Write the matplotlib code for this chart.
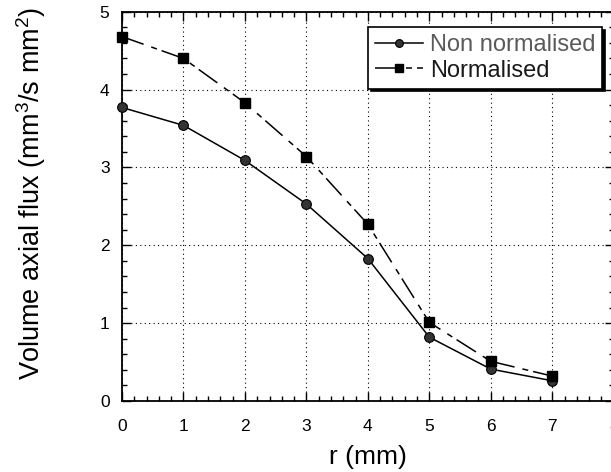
import numpy as np, matplotlib
matplotlib.use('Agg')
import matplotlib.pyplot as plt
from matplotlib.ticker import MultipleLocator

plt.rcParams['font.family'] = ['Liberation Sans', 'DejaVu Sans']
plt.rcParams['mathtext.fontset'] = 'custom'
plt.rcParams['mathtext.rm'] = 'Liberation Sans'

r = [0, 1, 2, 3, 4, 5, 6, 7]
non_norm = [3.77, 3.54, 3.09, 2.53, 1.83, 0.82, 0.41, 0.26]
norm = [4.68, 4.40, 3.83, 3.14, 2.27, 1.01, 0.51, 0.32]
xticks = [0, 1, 2, 3, 4, 5, 6, 7, 8]
yticks = [0, 1, 2, 3, 4, 5]

fig = plt.figure(figsize=(6.11, 4.72), dpi=100)
ax = fig.add_axes([0.1997, 0.1504, 0.8047, 0.8248])

ax.plot(r, non_norm, color='black', lw=1.1, marker='o', ms=7,
        mfc='#333333', mec='black', mew=0.8, clip_on=False, zorder=3,
        label='Non normalised')
ax.plot(r, norm, color='black', lw=1.1, ls=(0, (15, 5.3, 3.9, 3.3)),
        marker='s', ms=6.5, mfc='black', mec='black', clip_on=False,
        zorder=3, label='Normalised')

ax.set_xlim(0, 8)
ax.set_ylim(0, 5)
ax.set_xticks(xticks)
ax.set_yticks(yticks)
ax.xaxis.set_minor_locator(MultipleLocator(0.2))
ax.yaxis.set_minor_locator(MultipleLocator(0.2))
ax.tick_params(which='both', direction='in', top=True, right=True, width=1.0, color='black')
ax.tick_params(which='major', length=6.5, labelsize=12.5)
ax.tick_params(which='minor', length=3.5)
ax.tick_params(axis='x', which='major', pad=13)
ax.tick_params(axis='y', which='major', pad=9)
for s in ax.spines.values():
    s.set_linewidth(1.3)
ax.grid(True, which='major', color='black', ls=(0, (1, 3)), lw=0.8)

ax.set_xlabel('r (mm)', fontsize=19)
ax.set_ylabel('Volume axial flux (mm$^3$/s mm$^2$)', fontsize=19.5)
ax.xaxis.set_label_coords(0.5, -0.112)
ax.yaxis.set_label_coords(-0.150, 0.532)

leg = ax.legend(loc='upper right', bbox_to_anchor=(0.977, 0.961), borderaxespad=0,
                fontsize=17, frameon=True, fancybox=False, framealpha=1,
                edgecolor='black', handlelength=2.0, handletextpad=0.3,
                borderpad=0.3, labelspacing=0.15, markerscale=0.8,
                shadow={'facecolor': 'black', 'edgecolor': 'black', 'alpha': 1})
leg.get_frame().set_linewidth(1.2)
leg.get_texts()[0].set_color('#5a5a5a')
leg.get_texts()[1].set_color('#1a1a1a')

fig.savefig('out.png', dpi=100)
print('ok')
